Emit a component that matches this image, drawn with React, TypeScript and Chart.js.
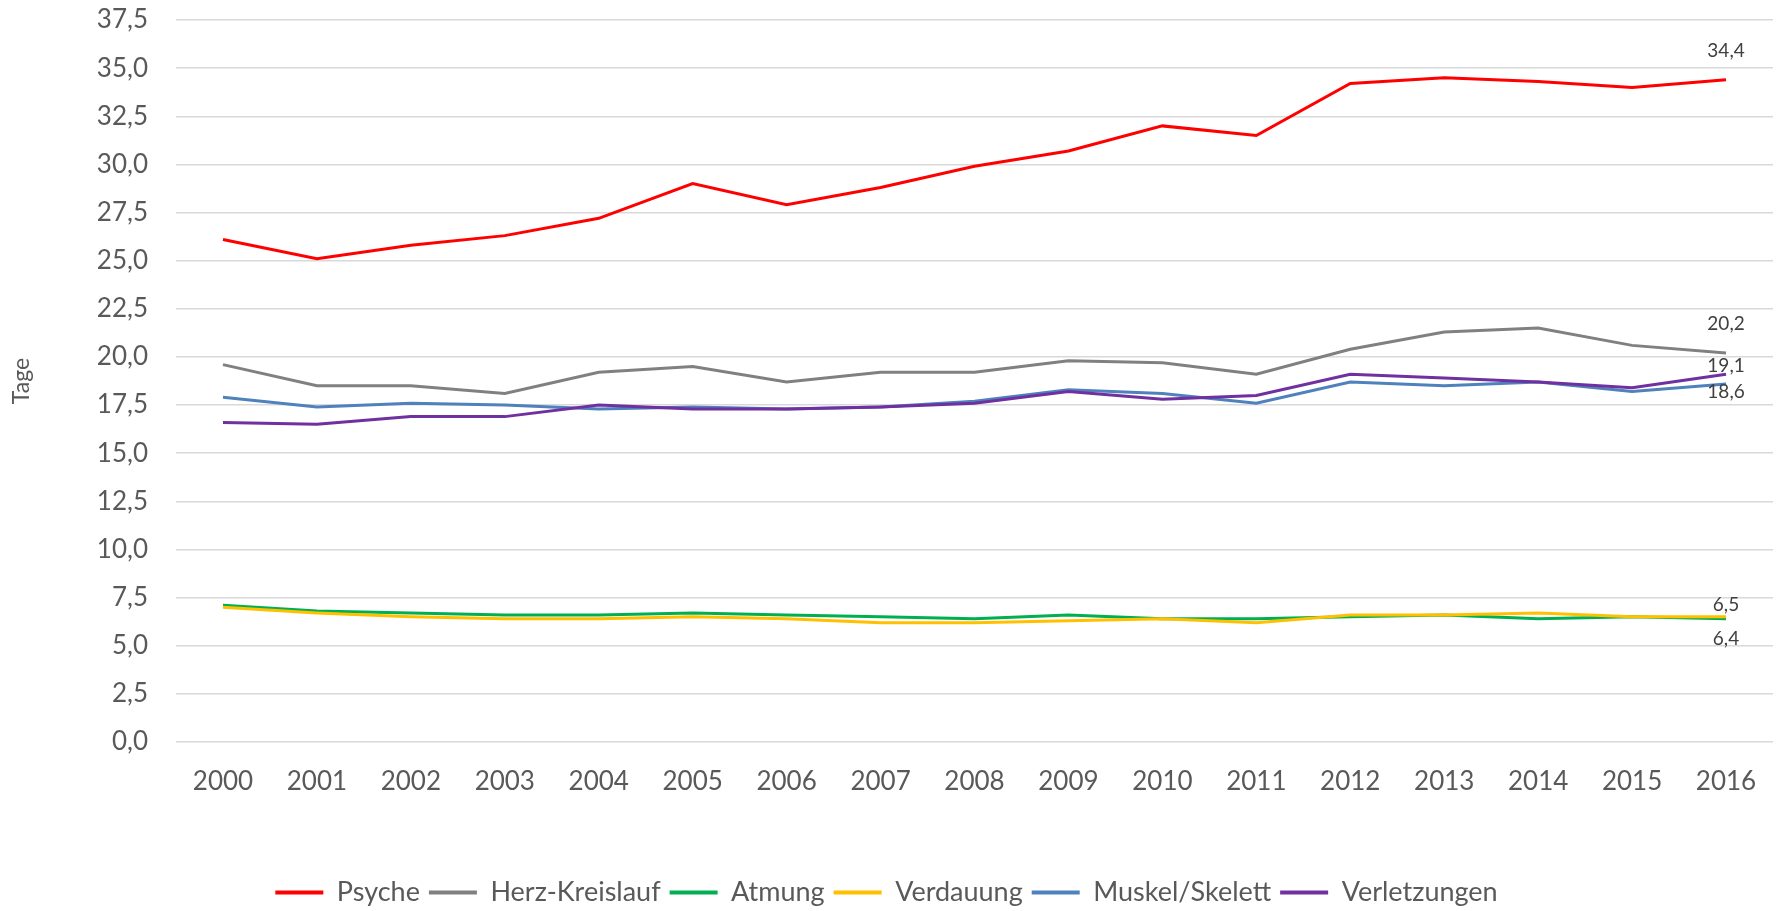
import React, { useEffect, useRef } from 'react';
import { Chart, registerables } from 'chart.js';

Chart.register(...registerables);

const years = ['2000', '2001', '2002', '2003', '2004', '2005', '2006', '2007', '2008', '2009', '2010', '2011', '2012', '2013', '2014', '2015', '2016'];

const psyche = [26.1, 25.1, 25.8, 26.3, 27.2, 29.0, 27.9, 28.8, 29.9, 30.7, 32.0, 31.5, 34.2, 34.5, 34.3, 34.0, 34.4];
const herzKreislauf = [19.6, 18.5, 18.5, 18.1, 19.2, 19.5, 18.7, 19.2, 19.2, 19.8, 19.7, 19.1, 20.4, 21.3, 21.5, 20.6, 20.2];
const atmung = [7.1, 6.8, 6.7, 6.6, 6.6, 6.7, 6.6, 6.5, 6.4, 6.6, 6.4, 6.4, 6.5, 6.6, 6.4, 6.5, 6.4];
const verdauung = [7.0, 6.7, 6.5, 6.4, 6.4, 6.5, 6.4, 6.2, 6.2, 6.3, 6.4, 6.2, 6.6, 6.6, 6.7, 6.5, 6.5];
const muskelSkelett = [17.9, 17.4, 17.6, 17.5, 17.3, 17.4, 17.3, 17.4, 17.7, 18.3, 18.1, 17.6, 18.7, 18.5, 18.7, 18.2, 18.6];
const verletzungen = [16.6, 16.5, 16.9, 16.9, 17.5, 17.3, 17.3, 17.4, 17.6, 18.2, 17.8, 18.0, 19.1, 18.9, 18.7, 18.4, 19.1];

const seriesNames = ['Psyche', 'Herz-Kreislauf', 'Atmung', 'Verdauung', 'Muskel/Skelett', 'Verletzungen'];
const seriesData = [psyche, herzKreislauf, atmung, verdauung, muskelSkelett, verletzungen];
const seriesColors = ['#FF0000', '#808080', '#00B050', '#FFC000', '#4F81BD', '#7030A0'];
// vertical pixel offset of the end-value label relative to the last point
const endLabelOffsets = [-29, -29, 20, -12, 8, -8];

const yMin = 0;
const yMax = 37.5;
const yStep = 2.5;
const yTitle = 'Tage';

const FONT = 'Lato, "Open Sans", sans-serif';
const TEXT = '#595959';

const fmt = (v: number) => v.toFixed(1).replace('.', ',');

const endLabelPlugin = {
  id: 'endLabels',
  afterDatasetsDraw(chart: any) {
    const ctx = chart.ctx;
    ctx.save();
    ctx.font = `19px ${FONT}`;
    ctx.fillStyle = '#404040';
    ctx.textAlign = 'center';
    ctx.textBaseline = 'middle';
    chart.data.datasets.forEach((ds: any, i: number) => {
      const meta = chart.getDatasetMeta(i);
      const pt = meta.data[meta.data.length - 1];
      const v = ds.data[ds.data.length - 1];
      ctx.fillText(fmt(v), pt.x, pt.y + endLabelOffsets[i]);
    });
    ctx.restore();
  },
};

export default function App() {
  const ref = useRef<HTMLCanvasElement>(null);
  useEffect(() => {
    if (!ref.current) return;
    const chart = new Chart(ref.current, {
      type: 'line',
      data: {
        labels: years,
        datasets: seriesNames.map((name, i) => ({
          label: name,
          data: seriesData[i],
          borderColor: seriesColors[i],
          backgroundColor: seriesColors[i],
          borderWidth: 3,
          pointRadius: 0,
          tension: 0,
          order: seriesNames.length - i,
        })),
      },
      options: {
        animation: false,
        responsive: false,
        maintainAspectRatio: false,
        layout: { padding: { top: 0, right: 6, left: 0, bottom: -5 } },
        plugins: {
          tooltip: { enabled: false },
          legend: {
            position: 'bottom',
            labels: {
              boxWidth: 48,
              boxHeight: 4,
              padding: 9,
              color: TEXT,
              font: { family: FONT, size: 27 },
              sort: (a: any, b: any) => a.datasetIndex - b.datasetIndex,
              generateLabels: (chart: any) =>
                (Chart.defaults.plugins.legend.labels as any)
                  .generateLabels(chart)
                  .map((l: any) => ({ ...l, lineWidth: 0, fillStyle: seriesColors[l.datasetIndex] })),
            },
          },
        },
        scales: {
          x: {
            offset: true,
            grid: { display: false, drawTicks: false },
            border: { display: false },
            ticks: { color: TEXT, font: { family: FONT, size: 26 }, padding: 24, maxRotation: 0 },
            afterFit: (s: any) => { s.height = 128; s.paddingLeft = 0; s.paddingRight = 0; },
          },
          y: {
            min: yMin,
            max: yMax,
            grid: { color: '#D9D9D9', lineWidth: 1.5, drawTicks: false },
            border: { display: false },
            ticks: {
              stepSize: yStep,
              color: TEXT,
              font: { family: FONT, size: 26 },
              padding: 28,
              callback: (v: any) => fmt(Number(v)),
            },
            title: { display: true, text: yTitle, color: TEXT, font: { family: FONT, size: 23 }, padding: { top: 8, bottom: 0 } },
            afterFit: (s: any) => { s.width = 176; s.paddingTop = 20; s.paddingBottom = 0; },
          },
        },
      },
      plugins: [endLabelPlugin],
    } as any);
    return () => chart.destroy();
  }, []);
  return (
    <div style={{ position: 'fixed', left: 0, top: 0, width: 1779, height: 911, background: '#fff' }}>
      <canvas ref={ref} width={1779} height={911} style={{ display: 'block' }} />
    </div>
  );
}
